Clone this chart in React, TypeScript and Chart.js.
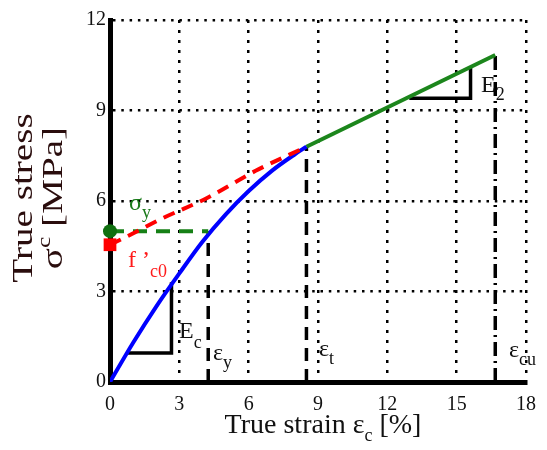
import React, { useEffect, useRef } from "react";
import { Chart, registerables } from "chart.js";
Chart.register(...registerables);

// ---- data ----
const xTickValues = [0, 3, 6, 9, 12, 15, 18];
const yTickValues = [0, 3, 6, 9, 12];

const blueStrain = [0, 1, 2, 3, 4, 5, 6, 7, 8, 8.5];
const blueStress = [0, 1.3, 2.5, 3.6, 4.65, 5.55, 6.33, 7.0, 7.55, 7.8];

const redStrain = [0, 0.8, 2.2, 4.2, 6.3, 8.5];
const redStress = [4.55, 4.85, 5.4, 6.1, 7.0, 7.8];

const greenStrain = [8.5, 16.67];
const greenStress = [7.8, 10.84];

const sigmaY = 5.0;
const fc0 = 4.55;
const epsY = 4.25;
const epsT = 8.5;
const epsCu = 16.67;
const stressAtEpsT = 7.8;
const stressAtEpsCu = 10.84;

const ecTriStrain = [0.76, 2.66, 2.66];
const ecTriStress = [0.96, 0.96, 3.31];
const e2TriStrain = [12.95, 15.6, 15.6];
const e2TriStress = [9.41, 9.41, 10.41];

const pts = (xs: number[], ys: number[]) => xs.map((x, i) => ({ x, y: ys[i] }));

const SERIF = '"Liberation Serif", "Times New Roman", serif';

type Seg = { t: string; size: number; dy?: number };

function drawRich(ctx: CanvasRenderingContext2D, segs: Seg[], x: number, y: number, color: string, align: "left" | "center" = "left") {
  ctx.save();
  ctx.fillStyle = color;
  ctx.textBaseline = "alphabetic";
  ctx.textAlign = "left";
  let total = 0;
  for (const s of segs) {
    ctx.font = `${s.size}px ${SERIF}`;
    total += ctx.measureText(s.t).width;
  }
  let cx = align === "center" ? x - total / 2 : x;
  for (const s of segs) {
    ctx.font = `${s.size}px ${SERIF}`;
    ctx.fillText(s.t, cx, y + (s.dy || 0));
    cx += ctx.measureText(s.t).width;
  }
  ctx.restore();
}

const textPlugin = {
  id: "richText",
  afterDraw(chart: any) {
    const ctx: CanvasRenderingContext2D = chart.ctx;
    // y-axis title (two rotated lines, stretched along text)
    const yTitleColor = "#2a0d0d";
    ctx.save();
    ctx.translate(32, 198);
    ctx.rotate(-Math.PI / 2);
    ctx.scale(1.35, 1);
    drawRich(ctx, [{ t: "True stress", size: 29 }], 0, 0, yTitleColor, "center");
    ctx.restore();
    ctx.save();
    ctx.translate(62, 198);
    ctx.rotate(-Math.PI / 2);
    ctx.scale(1.35, 1);
    drawRich(ctx, [{ t: "σ", size: 29 }, { t: "c", size: 19, dy: -12 }, { t: " [MPa]", size: 29 }], 0, 0, yTitleColor, "center");
    ctx.restore();

    // x-axis title
    drawRich(ctx, [{ t: "True strain ε", size: 28 }, { t: "c", size: 18, dy: 8 }, { t: " [%]", size: 28 }], 323, 433, "#111111", "center");

    // annotations
    drawRich(ctx, [{ t: "σ", size: 24 }, { t: "y", size: 18, dy: 8 }], 129, 210, "#1a7a1a");
    drawRich(ctx, [{ t: "f ’", size: 24 }, { t: "c0", size: 18, dy: 10 }], 128, 267, "#ff1a1a");
    drawRich(ctx, [{ t: "E", size: 24 }, { t: "c", size: 18, dy: 10 }], 179, 338, "#111111");
    drawRich(ctx, [{ t: "ε", size: 24 }, { t: "y", size: 18, dy: 8 }], 213, 360, "#111111");
    drawRich(ctx, [{ t: "ε", size: 24 }, { t: "t", size: 18, dy: 8 }], 319, 356, "#111111");
    drawRich(ctx, [{ t: "ε", size: 24 }, { t: "cu", size: 18, dy: 8 }], 509, 357, "#111111");
    drawRich(ctx, [{ t: "E", size: 24 }, { t: "2", size: 18, dy: 8 }], 481, 92, "#111111");
  },
};

export default function App() {
  const ref = useRef<HTMLCanvasElement | null>(null);
  useEffect(() => {
    if (!ref.current) return;
    const lineBase = { showLine: true, pointRadius: 0, fill: false };
    const chart = new Chart(ref.current, {
      type: "scatter",
      data: {
        datasets: [
          { label: "sy", data: [{ x: 0, y: sigmaY }], showLine: false, pointRadius: 7, pointBackgroundColor: "#0f6f0f", pointBorderWidth: 0, clip: false, order: 0 } as any,
          { label: "fc0", data: [{ x: 0, y: fc0 }], showLine: false, pointStyle: "rect", pointRadius: 9, pointBackgroundColor: "#ff0000", pointBorderWidth: 0, clip: false, order: 1 } as any,
          { ...lineBase, label: "red", data: pts(redStrain, redStress), borderColor: "#ff0000", borderWidth: 4, borderDash: [12, 8], cubicInterpolationMode: "monotone", order: 2 } as any,
          { ...lineBase, label: "greenDash", data: [{ x: 0, y: sigmaY }, { x: epsY, y: sigmaY }], borderColor: "#168016", borderWidth: 4, borderDash: [14, 9], order: 3 } as any,
          { ...lineBase, label: "blue", data: pts(blueStrain, blueStress), borderColor: "#0000ff", borderWidth: 4, cubicInterpolationMode: "monotone", order: 4 } as any,
          { ...lineBase, label: "green", data: pts(greenStrain, greenStress), borderColor: "#1c861c", borderWidth: 4, order: 5 } as any,
          { ...lineBase, label: "epsY", data: [{ x: epsY, y: 0 }, { x: epsY, y: sigmaY }], borderColor: "#000000", borderWidth: 3.5, borderDash: [13, 8], order: 6 } as any,
          { ...lineBase, label: "epsT", data: [{ x: epsT, y: 0 }, { x: epsT, y: stressAtEpsT }], borderColor: "#000000", borderWidth: 3.5, borderDash: [13, 8], order: 7 } as any,
          { ...lineBase, label: "epsCu", data: [{ x: epsCu, y: 0 }, { x: epsCu, y: stressAtEpsCu }], borderColor: "#000000", borderWidth: 3.5, borderDash: [14, 5, 2, 5], order: 8 } as any,
          { ...lineBase, label: "Ec", data: pts(ecTriStrain, ecTriStress), borderColor: "#000000", borderWidth: 3.5, order: 9 } as any,
          { ...lineBase, label: "E2", data: pts(e2TriStrain, e2TriStress), borderColor: "#000000", borderWidth: 3.5, order: 10 } as any,
        ],
      },
      options: {
        animation: false,
        responsive: false,
        maintainAspectRatio: false,
        events: [],
        layout: { padding: { top: 20, right: 10, left: 0, bottom: 0 } },
        plugins: { legend: { display: false }, tooltip: { enabled: false } },
        scales: {
          x: {
            type: "linear",
            min: 0,
            max: 18,
            afterBuildTicks: (s: any) => { s.ticks = xTickValues.map((v) => ({ value: v })); },
            afterFit: (s: any) => { s.height = 68; },
            ticks: { font: { family: SERIF, size: 20 }, color: "#111111", padding: 11, maxRotation: 0 },
            grid: { color: "#000000", lineWidth: 2.5, drawTicks: false },
            border: { display: true, color: "#000000", width: 5, dash: [3, 7] },
          },
          y: {
            type: "linear",
            min: 0,
            max: 12,
            afterBuildTicks: (s: any) => { s.ticks = yTickValues.map((v) => ({ value: v })); },
            afterFit: (s: any) => { s.width = 110; },
            ticks: { font: { family: SERIF, size: 20 }, color: "#111111", padding: 4 },
            grid: { color: "#000000", lineWidth: 2.5, drawTicks: false },
            border: { display: true, color: "#000000", width: 5, dash: [2.5, 5.8] },
          },
        },
      },
      plugins: [textPlugin as any],
    });
    return () => chart.destroy();
  }, []);
  return (
    <div style={{ position: "absolute", left: 0, top: 0, width: 547, height: 450, background: "#ffffff" }}>
      <canvas ref={ref} width={547} height={450} style={{ display: "block", width: 547, height: 450 }} />
    </div>
  );
}
